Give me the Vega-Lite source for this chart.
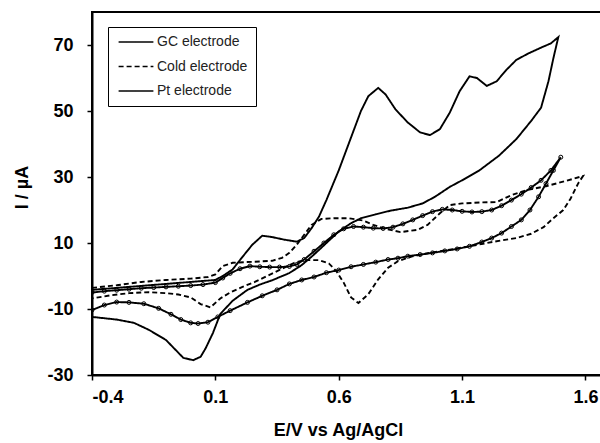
{
"$schema": "https://vega.github.io/schema/vega-lite/v6.json",
"width": 510, "height": 363,
"autosize": {"type": "none"},
"padding": {"left": 92, "top": 12, "right": 0, "bottom": 68},
"background": "white",
"config": {"view": {"stroke": "black", "strokeWidth": 2}, "font": "Liberation Sans"},
"data": {"values": [
{"s":"GC electrode","i":1,"E":-0.4,"I":-4.2},{"s":"GC electrode","i":2,"E":-0.3,"I":-3.6},{"s":"GC electrode","i":3,"E":-0.2,"I":-3},{"s":"GC electrode","i":4,"E":-0.1,"I":-2.4},{"s":"GC electrode","i":5,"E":0.0,"I":-1.8},{"s":"GC electrode","i":6,"E":0.1,"I":-1.2},{"s":"GC electrode","i":7,"E":0.13,"I":0},{"s":"GC electrode","i":8,"E":0.17,"I":2},{"s":"GC electrode","i":9,"E":0.21,"I":5.8},{"s":"GC electrode","i":10,"E":0.25,"I":9.5},
{"s":"GC electrode","i":11,"E":0.29,"I":12.2},{"s":"GC electrode","i":12,"E":0.33,"I":11.8},{"s":"GC electrode","i":13,"E":0.38,"I":11},{"s":"GC electrode","i":14,"E":0.43,"I":10.4},{"s":"GC electrode","i":15,"E":0.46,"I":11.5},{"s":"GC electrode","i":16,"E":0.49,"I":14.5},{"s":"GC electrode","i":17,"E":0.52,"I":18},{"s":"GC electrode","i":18,"E":0.55,"I":23},{"s":"GC electrode","i":19,"E":0.6,"I":32},{"s":"GC electrode","i":20,"E":0.65,"I":42},
{"s":"GC electrode","i":21,"E":0.69,"I":50},{"s":"GC electrode","i":22,"E":0.72,"I":54.5},{"s":"GC electrode","i":23,"E":0.76,"I":57},{"s":"GC electrode","i":24,"E":0.79,"I":55},{"s":"GC electrode","i":25,"E":0.83,"I":50.5},{"s":"GC electrode","i":26,"E":0.88,"I":46.5},{"s":"GC electrode","i":27,"E":0.93,"I":43.5},{"s":"GC electrode","i":28,"E":0.97,"I":42.7},{"s":"GC electrode","i":29,"E":1.01,"I":44.5},{"s":"GC electrode","i":30,"E":1.05,"I":49.5},
{"s":"GC electrode","i":31,"E":1.09,"I":56},{"s":"GC electrode","i":32,"E":1.13,"I":60.5},{"s":"GC electrode","i":33,"E":1.16,"I":60},{"s":"GC electrode","i":34,"E":1.2,"I":57.6},{"s":"GC electrode","i":35,"E":1.24,"I":59},{"s":"GC electrode","i":36,"E":1.28,"I":62.5},{"s":"GC electrode","i":37,"E":1.32,"I":65.5},{"s":"GC electrode","i":38,"E":1.37,"I":67.5},{"s":"GC electrode","i":39,"E":1.42,"I":69.2},{"s":"GC electrode","i":40,"E":1.46,"I":70.5},
{"s":"GC electrode","i":41,"E":1.49,"I":72.4},{"s":"GC electrode","i":42,"E":1.47,"I":66},{"s":"GC electrode","i":43,"E":1.45,"I":59},{"s":"GC electrode","i":44,"E":1.42,"I":51},{"s":"GC electrode","i":45,"E":1.38,"I":47},{"s":"GC electrode","i":46,"E":1.32,"I":41.5},{"s":"GC electrode","i":47,"E":1.25,"I":36.5},{"s":"GC electrode","i":48,"E":1.17,"I":32},{"s":"GC electrode","i":49,"E":1.1,"I":29},{"s":"GC electrode","i":50,"E":1.05,"I":27},
{"s":"GC electrode","i":51,"E":0.99,"I":24},{"s":"GC electrode","i":52,"E":0.94,"I":22},{"s":"GC electrode","i":53,"E":0.88,"I":20.7},{"s":"GC electrode","i":54,"E":0.81,"I":19.8},{"s":"GC electrode","i":55,"E":0.75,"I":18.7},{"s":"GC electrode","i":56,"E":0.69,"I":17.5},{"s":"GC electrode","i":57,"E":0.65,"I":16},{"s":"GC electrode","i":58,"E":0.6,"I":13.5},{"s":"GC electrode","i":59,"E":0.55,"I":10},{"s":"GC electrode","i":60,"E":0.5,"I":6.5},
{"s":"GC electrode","i":61,"E":0.45,"I":3.3},{"s":"GC electrode","i":62,"E":0.4,"I":0.9},{"s":"GC electrode","i":63,"E":0.33,"I":-1.3},{"s":"GC electrode","i":64,"E":0.28,"I":-2.6},{"s":"GC electrode","i":65,"E":0.23,"I":-4.2},{"s":"GC electrode","i":66,"E":0.17,"I":-7.5},{"s":"GC electrode","i":67,"E":0.12,"I":-11.5},{"s":"GC electrode","i":68,"E":0.09,"I":-17.3},{"s":"GC electrode","i":69,"E":0.06,"I":-22},{"s":"GC electrode","i":70,"E":0.04,"I":-24.5},
{"s":"GC electrode","i":71,"E":0.01,"I":-25.5},{"s":"GC electrode","i":72,"E":-0.03,"I":-24.8},{"s":"GC electrode","i":73,"E":-0.1,"I":-19.4},{"s":"GC electrode","i":74,"E":-0.17,"I":-16.3},{"s":"GC electrode","i":75,"E":-0.23,"I":-14.2},{"s":"GC electrode","i":76,"E":-0.3,"I":-13.2},{"s":"GC electrode","i":77,"E":-0.4,"I":-12.4},
{"s":"Cold electrode","i":1,"E":-0.4,"I":-3.6},{"s":"Cold electrode","i":2,"E":-0.3,"I":-2.8},{"s":"Cold electrode","i":3,"E":-0.2,"I":-1.8},{"s":"Cold electrode","i":4,"E":-0.1,"I":-1.2},{"s":"Cold electrode","i":5,"E":0.0,"I":-0.8},{"s":"Cold electrode","i":6,"E":0.07,"I":-0.3},{"s":"Cold electrode","i":7,"E":0.1,"I":0.5},{"s":"Cold electrode","i":8,"E":0.13,"I":3},{"s":"Cold electrode","i":9,"E":0.17,"I":4},{"s":"Cold electrode","i":10,"E":0.22,"I":4.2},
{"s":"Cold electrode","i":11,"E":0.28,"I":4.4},{"s":"Cold electrode","i":12,"E":0.33,"I":4.6},{"s":"Cold electrode","i":13,"E":0.37,"I":5.5},{"s":"Cold electrode","i":14,"E":0.4,"I":7},{"s":"Cold electrode","i":15,"E":0.43,"I":9.5},{"s":"Cold electrode","i":16,"E":0.46,"I":12.5},{"s":"Cold electrode","i":17,"E":0.49,"I":15.5},{"s":"Cold electrode","i":18,"E":0.53,"I":17.3},{"s":"Cold electrode","i":19,"E":0.58,"I":17.5},{"s":"Cold electrode","i":20,"E":0.64,"I":17.5},
{"s":"Cold electrode","i":21,"E":0.7,"I":16.8},{"s":"Cold electrode","i":22,"E":0.74,"I":15.5},{"s":"Cold electrode","i":23,"E":0.78,"I":14.5},{"s":"Cold electrode","i":24,"E":0.85,"I":13.3},{"s":"Cold electrode","i":25,"E":0.92,"I":14},{"s":"Cold electrode","i":26,"E":0.96,"I":15.5},{"s":"Cold electrode","i":27,"E":1.01,"I":19},{"s":"Cold electrode","i":28,"E":1.05,"I":21.5},{"s":"Cold electrode","i":29,"E":1.1,"I":22},{"s":"Cold electrode","i":30,"E":1.18,"I":22.3},
{"s":"Cold electrode","i":31,"E":1.24,"I":22.4},{"s":"Cold electrode","i":32,"E":1.3,"I":24.5},{"s":"Cold electrode","i":33,"E":1.36,"I":26},{"s":"Cold electrode","i":34,"E":1.44,"I":27.2},{"s":"Cold electrode","i":35,"E":1.52,"I":28.8},{"s":"Cold electrode","i":36,"E":1.59,"I":30.3},{"s":"Cold electrode","i":37,"E":1.57,"I":28},{"s":"Cold electrode","i":38,"E":1.54,"I":23.5},{"s":"Cold electrode","i":39,"E":1.51,"I":20},{"s":"Cold electrode","i":40,"E":1.47,"I":17.5},
{"s":"Cold electrode","i":41,"E":1.43,"I":14.8},{"s":"Cold electrode","i":42,"E":1.38,"I":12.8},{"s":"Cold electrode","i":43,"E":1.32,"I":11.5},{"s":"Cold electrode","i":44,"E":1.26,"I":10.8},{"s":"Cold electrode","i":45,"E":1.2,"I":10},{"s":"Cold electrode","i":46,"E":1.13,"I":9},{"s":"Cold electrode","i":47,"E":1.05,"I":8},{"s":"Cold electrode","i":48,"E":0.97,"I":7},{"s":"Cold electrode","i":49,"E":0.9,"I":6},{"s":"Cold electrode","i":50,"E":0.84,"I":4.5},
{"s":"Cold electrode","i":51,"E":0.8,"I":2.5},{"s":"Cold electrode","i":52,"E":0.76,"I":-1},{"s":"Cold electrode","i":53,"E":0.72,"I":-5.5},{"s":"Cold electrode","i":54,"E":0.68,"I":-8.2},{"s":"Cold electrode","i":55,"E":0.65,"I":-6.5},{"s":"Cold electrode","i":56,"E":0.62,"I":-2},{"s":"Cold electrode","i":57,"E":0.59,"I":1.5},{"s":"Cold electrode","i":58,"E":0.56,"I":3.8},{"s":"Cold electrode","i":59,"E":0.52,"I":4.8},{"s":"Cold electrode","i":60,"E":0.46,"I":4.8},
{"s":"Cold electrode","i":61,"E":0.42,"I":4},{"s":"Cold electrode","i":62,"E":0.37,"I":2.2},{"s":"Cold electrode","i":63,"E":0.31,"I":0},{"s":"Cold electrode","i":64,"E":0.26,"I":-1.8},{"s":"Cold electrode","i":65,"E":0.21,"I":-3.3},{"s":"Cold electrode","i":66,"E":0.16,"I":-5},{"s":"Cold electrode","i":67,"E":0.12,"I":-6.8},{"s":"Cold electrode","i":68,"E":0.08,"I":-9.5},{"s":"Cold electrode","i":69,"E":0.04,"I":-8.5},{"s":"Cold electrode","i":70,"E":0.0,"I":-6.5},
{"s":"Cold electrode","i":71,"E":-0.05,"I":-5.6},{"s":"Cold electrode","i":72,"E":-0.1,"I":-5.2},{"s":"Cold electrode","i":73,"E":-0.17,"I":-4.9},{"s":"Cold electrode","i":74,"E":-0.25,"I":-5.2},{"s":"Cold electrode","i":75,"E":-0.32,"I":-5.8},{"s":"Cold electrode","i":76,"E":-0.4,"I":-6.8},
{"s":"Pt electrode","i":1,"E":-0.4,"I":-5.0},{"s":"Pt electrode","i":2,"E":-0.35,"I":-4.6},{"s":"Pt electrode","i":3,"E":-0.3,"I":-4.3},{"s":"Pt electrode","i":4,"E":-0.25,"I":-4.0},{"s":"Pt electrode","i":5,"E":-0.2,"I":-3.7},{"s":"Pt electrode","i":6,"E":-0.15,"I":-3.5},{"s":"Pt electrode","i":7,"E":-0.1,"I":-3.3},{"s":"Pt electrode","i":8,"E":-0.05,"I":-3.1},{"s":"Pt electrode","i":9,"E":0.0,"I":-2.9},{"s":"Pt electrode","i":10,"E":0.05,"I":-2.6},
{"s":"Pt electrode","i":11,"E":0.1,"I":-2.0},{"s":"Pt electrode","i":12,"E":0.13,"I":-0.6},{"s":"Pt electrode","i":13,"E":0.16,"I":0.8},{"s":"Pt electrode","i":14,"E":0.2,"I":2.2},{"s":"Pt electrode","i":15,"E":0.24,"I":3.0},{"s":"Pt electrode","i":16,"E":0.28,"I":2.8},{"s":"Pt electrode","i":17,"E":0.32,"I":2.7},{"s":"Pt electrode","i":18,"E":0.36,"I":2.7},{"s":"Pt electrode","i":19,"E":0.4,"I":2.9},{"s":"Pt electrode","i":20,"E":0.43,"I":3.5},
{"s":"Pt electrode","i":21,"E":0.46,"I":5},{"s":"Pt electrode","i":22,"E":0.5,"I":7.5},{"s":"Pt electrode","i":23,"E":0.54,"I":10},{"s":"Pt electrode","i":24,"E":0.58,"I":12.5},{"s":"Pt electrode","i":25,"E":0.62,"I":14.3},{"s":"Pt electrode","i":26,"E":0.66,"I":15},{"s":"Pt electrode","i":27,"E":0.7,"I":14.8},{"s":"Pt electrode","i":28,"E":0.74,"I":14.5},{"s":"Pt electrode","i":29,"E":0.78,"I":14.4},{"s":"Pt electrode","i":30,"E":0.82,"I":14.8},
{"s":"Pt electrode","i":31,"E":0.86,"I":15.8},{"s":"Pt electrode","i":32,"E":0.9,"I":17},{"s":"Pt electrode","i":33,"E":0.94,"I":18.3},{"s":"Pt electrode","i":34,"E":0.98,"I":19.5},{"s":"Pt electrode","i":35,"E":1.02,"I":20.2},{"s":"Pt electrode","i":36,"E":1.06,"I":20},{"s":"Pt electrode","i":37,"E":1.1,"I":19.6},{"s":"Pt electrode","i":38,"E":1.14,"I":19.4},{"s":"Pt electrode","i":39,"E":1.18,"I":19.5},{"s":"Pt electrode","i":40,"E":1.22,"I":20},
{"s":"Pt electrode","i":41,"E":1.26,"I":21.3},{"s":"Pt electrode","i":42,"E":1.3,"I":23},{"s":"Pt electrode","i":43,"E":1.34,"I":24.8},{"s":"Pt electrode","i":44,"E":1.38,"I":26.8},{"s":"Pt electrode","i":45,"E":1.42,"I":29},{"s":"Pt electrode","i":46,"E":1.46,"I":32},{"s":"Pt electrode","i":47,"E":1.5,"I":36},{"s":"Pt electrode","i":48,"E":1.47,"I":32},{"s":"Pt electrode","i":49,"E":1.44,"I":28},{"s":"Pt electrode","i":50,"E":1.41,"I":24},
{"s":"Pt electrode","i":51,"E":1.375,"I":20},{"s":"Pt electrode","i":52,"E":1.34,"I":17},{"s":"Pt electrode","i":53,"E":1.3,"I":15},{"s":"Pt electrode","i":54,"E":1.26,"I":13},{"s":"Pt electrode","i":55,"E":1.22,"I":11.5},{"s":"Pt electrode","i":56,"E":1.18,"I":10.3},{"s":"Pt electrode","i":57,"E":1.13,"I":9},{"s":"Pt electrode","i":58,"E":1.08,"I":8.2},{"s":"Pt electrode","i":59,"E":1.03,"I":7.6},{"s":"Pt electrode","i":60,"E":0.98,"I":7},
{"s":"Pt electrode","i":61,"E":0.93,"I":6.5},{"s":"Pt electrode","i":62,"E":0.88,"I":6},{"s":"Pt electrode","i":63,"E":0.84,"I":5.4},{"s":"Pt electrode","i":64,"E":0.8,"I":5},{"s":"Pt electrode","i":65,"E":0.75,"I":4.2},{"s":"Pt electrode","i":66,"E":0.7,"I":3.5},{"s":"Pt electrode","i":67,"E":0.65,"I":2.8},{"s":"Pt electrode","i":68,"E":0.6,"I":1.8},{"s":"Pt electrode","i":69,"E":0.55,"I":1.0},{"s":"Pt electrode","i":70,"E":0.5,"I":-0.3},
{"s":"Pt electrode","i":71,"E":0.45,"I":-1.2},{"s":"Pt electrode","i":72,"E":0.4,"I":-2.4},{"s":"Pt electrode","i":73,"E":0.35,"I":-4.2},{"s":"Pt electrode","i":74,"E":0.29,"I":-6},{"s":"Pt electrode","i":75,"E":0.23,"I":-8},{"s":"Pt electrode","i":76,"E":0.16,"I":-10.5},{"s":"Pt electrode","i":77,"E":0.11,"I":-12.4},{"s":"Pt electrode","i":78,"E":0.07,"I":-14},{"s":"Pt electrode","i":79,"E":0.03,"I":-14.4},{"s":"Pt electrode","i":80,"E":0.0,"I":-14.2},
{"s":"Pt electrode","i":81,"E":-0.04,"I":-13.2},{"s":"Pt electrode","i":82,"E":-0.08,"I":-11.6},{"s":"Pt electrode","i":83,"E":-0.13,"I":-9.8},{"s":"Pt electrode","i":84,"E":-0.19,"I":-8.4},{"s":"Pt electrode","i":85,"E":-0.25,"I":-8.0},{"s":"Pt electrode","i":86,"E":-0.3,"I":-7.9},{"s":"Pt electrode","i":87,"E":-0.35,"I":-8.8},{"s":"Pt electrode","i":88,"E":-0.4,"I":-10.3}
]},
"encoding": {
"x": {"field": "E", "type": "quantitative",
 "scale": {"domain": [-0.4, 1.667], "nice": false, "zero": false},
 "axis": {"values": [-0.4, 0.1, 0.6, 1.1, 1.6], "labelExpr": "replace(format(datum.value, '.1f'), '\u2212', '-')", "grid": false,
  "labelFontSize": 18, "labelFontWeight": "bold", "labelColor": "black", "labelPadding": 8,
  "domainColor": "black", "domainWidth": 2, "tickColor": "black", "tickSize": 5, "tickWidth": 1.5,
  "title": "E/V vs Ag/AgCl", "titleFontSize": 18, "titleFontWeight": "bold", "titleColor": "black",
  "titleX": 246, "titleY": 55, "titleBaseline": "middle", "titleAnchor": "middle"}},
"y": {"field": "I", "type": "quantitative",
 "scale": {"domain": [-30, 80], "nice": false, "zero": false},
 "axis": {"values": [-30, -10, 10, 30, 50, 70], "labelExpr": "replace(format(datum.value, 'd'), '\u2212', '-')", "grid": false,
  "labelFontSize": 18, "labelFontWeight": "bold", "labelColor": "black", "labelPadding": 14,
  "domainColor": "black", "domainWidth": 2, "tickColor": "black", "tickSize": 5, "tickWidth": 1.5,
  "title": "I / µA", "titleFontSize": 18, "titleFontWeight": "bold", "titleColor": "black",
  "titleX": -70, "titleY": 175, "titleBaseline": "middle", "titleAnchor": "middle"}}
},
"layer": [
{
"mark": {"type": "line", "color": "black", "strokeWidth": 1.9, "clip": true},
"encoding": {
 "order": {"field": "i", "type": "quantitative"},
 "strokeDash": {"field": "s", "type": "nominal",
  "scale": {"domain": ["GC electrode", "Cold electrode", "Pt electrode"], "range": [[1, 0], [5, 3], [1, 0]]},
  "legend": {"orient": "none", "legendX": 16, "legendY": 15, "title": null,
   "symbolType": "M-2.9,0H2.9", "symbolSize": 144, "symbolStrokeWidth": 1.6, "symbolStrokeColor": "black",
   "symbolOffset": 13, "labelOffset": 14,
   "labelFontSize": 14, "labelColor": "#222", "labelFont": "Liberation Sans",
   "rowPadding": 10.5, "padding": 8, "strokeColor": "black", "fillColor": "white"}}
}
},
{
"transform": [{"filter": "datum.s === 'Pt electrode'"}],
"mark": {"type": "point", "shape": "circle", "filled": false, "color": "black", "size": 16, "strokeWidth": 1, "opacity": 1, "clip": true},
"encoding": {}
}
]
}
